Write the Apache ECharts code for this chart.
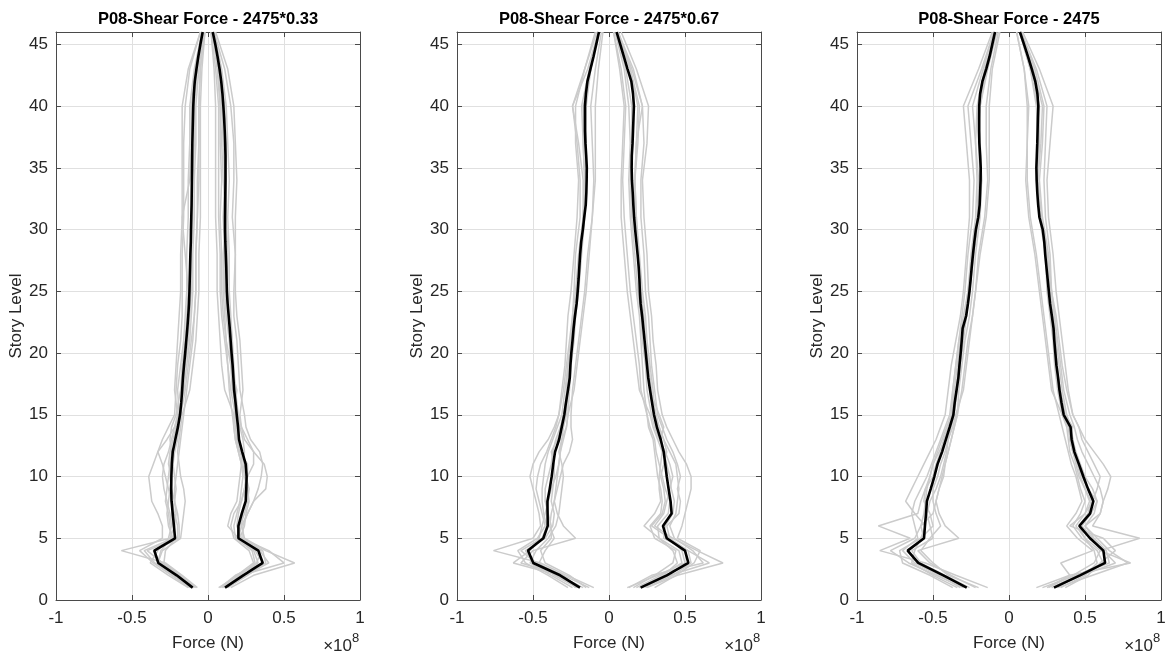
<!DOCTYPE html>
<html>
<head>
<meta charset="utf-8">
<title>P08 Shear Force Envelopes</title>
<script src="https://cdn.jsdelivr.net/npm/echarts@6/dist/echarts.min.js"></script>
<style>
  html, body { margin: 0; padding: 0; background: #ffffff; }
  #chart { width: 1175px; height: 662px; }
</style>
</head>
<body>
<div id="chart"></div>
<script>
// Story levels used by the mean envelopes
const STORY = [1,2,3,4,5,6,7,8,9,10,11,12,13,14,15,16,17,18,19,20,21,22,23,24,25,26,27,28,29,30,31,32,33,34,35,36,37,38,39,40,41,42,43,44,45,46];
// Story levels sampled for the individual ground-motion envelopes
const STORY_GM = [1,2,3,4,5,6,7,8,9,10,11,12,13,14,15,17,19,21,23,25,28,31,34,37,40,43,46];

const TITLES = ['P08-Shear Force - 2475*0.33', 'P08-Shear Force - 2475*0.67', 'P08-Shear Force - 2475'];
const X_TICKS = [-1, -0.5, 0, 0.5, 1];
const Y_TICKS = [0, 5, 10, 15, 20, 25, 30, 35, 40, 45];

// Shear force, in units of 1e8 N
// ---- 2475*0.33 ----
const P1_POS_MEAN = [0.112,0.232,0.360,0.331,0.200,0.200,0.222,0.248,0.252,0.254,0.248,0.225,0.204,0.198,0.189,0.181,0.172,0.167,0.162,0.155,0.149,0.143,0.136,0.129,0.124,0.122,0.120,0.117,0.114,0.112,0.112,0.113,0.114,0.115,0.115,0.115,0.113,0.110,0.106,0.101,0.095,0.087,0.076,0.063,0.048,0.031];
const P1_NEG_MEAN = [-0.101,-0.206,-0.327,-0.353,-0.217,-0.224,-0.232,-0.240,-0.242,-0.241,-0.238,-0.232,-0.215,-0.198,-0.184,-0.176,-0.170,-0.165,-0.158,-0.150,-0.143,-0.136,-0.130,-0.125,-0.122,-0.120,-0.118,-0.116,-0.113,-0.112,-0.110,-0.108,-0.107,-0.106,-0.105,-0.104,-0.103,-0.101,-0.099,-0.097,-0.093,-0.087,-0.076,-0.064,-0.050,-0.035];
const P1_POS_GM = [
  [.07,.20,.33,.30,.18,.17,.19,.21,.22,.23,.22,.20,.18,.17,.16,.14,.13,.12,.10,.09,.09,.08,.09,.08,.08,.06,.03],
  [.15,.30,.57,.38,.24,.22,.26,.30,.33,.35,.36,.34,.28,.25,.24,.21,.20,.19,.17,.17,.18,.16,.17,.17,.15,.11,.04],
  [.10,.22,.50,.40,.22,.19,.20,.22,.24,.26,.30,.30,.26,.22,.20,.16,.15,.14,.12,.11,.11,.10,.11,.10,.09,.07,.03],
  [.09,.19,.30,.27,.17,.15,.17,.22,.24,.25,.24,.21,.19,.18,.17,.11,.09,.08,.07,.06,.06,.05,.05,.05,.05,.04,.02],
  [.13,.26,.38,.36,.23,.23,.26,.30,.38,.39,.37,.30,.24,.22,.21,.23,.22,.21,.19,.18,.18,.18,.19,.18,.17,.13,.05],
  [.11,.21,.31,.29,.19,.21,.24,.26,.27,.25,.22,.20,.18,.17,.17,.19,.15,.12,.11,.10,.10,.12,.10,.09,.08,.07,.03],
  [.12,.25,.40,.34,.21,.24,.25,.27,.26,.24,.23,.24,.23,.21,.20,.18,.17,.16,.15,.14,.14,.13,.14,.13,.12,.09,.04],
  [.08,.18,.36,.31,.20,.13,.15,.19,.20,.21,.22,.22,.20,.19,.18,.15,.13,.11,.09,.08,.08,.07,.07,.07,.07,.05,.02],
  [.12,.24,.32,.35,.20,.22,.23,.25,.24,.26,.26,.21,.19,.19,.18,.17,.16,.16,.14,.13,.13,.12,.12,.12,.11,.08,.03]
];
const P1_NEG_GM = [
  [-.07,-.17,-.28,-.57,-.25,-.22,-.21,-.22,-.22,-.21,-.20,-.19,-.18,-.17,-.16,-.14,-.12,-.10,-.09,-.08,-.08,-.07,-.07,-.06,-.06,-.05,-.03],
  [-.12,-.24,-.36,-.45,-.30,-.30,-.33,-.37,-.38,-.39,-.36,-.33,-.30,-.26,-.22,-.21,-.20,-.18,-.17,-.17,-.17,-.16,-.16,-.16,-.15,-.12,-.05],
  [-.09,-.19,-.30,-.40,-.20,-.20,-.22,-.24,-.26,-.28,-.30,-.33,-.27,-.22,-.19,-.16,-.15,-.13,-.12,-.11,-.11,-.10,-.10,-.09,-.09,-.07,-.03],
  [-.10,-.22,-.33,-.30,-.18,-.17,-.16,-.15,-.16,-.18,-.19,-.20,-.19,-.18,-.17,-.12,-.10,-.08,-.07,-.06,-.06,-.05,-.05,-.05,-.05,-.04,-.02],
  [-.13,-.26,-.38,-.33,-.26,-.24,-.25,-.27,-.29,-.30,-.29,-.26,-.24,-.22,-.20,-.22,-.21,-.20,-.19,-.18,-.18,-.17,-.17,-.17,-.17,-.13,-.05],
  [-.08,-.18,-.29,-.28,-.21,-.23,-.24,-.22,-.21,-.22,-.23,-.22,-.22,-.21,-.19,-.16,-.14,-.12,-.11,-.10,-.10,-.09,-.09,-.08,-.08,-.06,-.03],
  [-.11,-.23,-.35,-.42,-.23,-.26,-.27,-.26,-.25,-.24,-.26,-.25,-.23,-.21,-.19,-.20,-.18,-.16,-.15,-.14,-.14,-.13,-.13,-.12,-.12,-.09,-.04],
  [-.09,-.20,-.31,-.36,-.19,-.19,-.20,-.22,-.24,-.25,-.24,-.22,-.20,-.19,-.18,-.15,-.13,-.11,-.09,-.08,-.08,-.07,-.06,-.06,-.06,-.05,-.02],
  [-.11,-.21,-.33,-.31,-.24,-.25,-.26,-.28,-.27,-.26,-.25,-.24,-.25,-.24,-.21,-.18,-.17,-.15,-.14,-.13,-.15,-.17,-.12,-.11,-.11,-.08,-.04]
];

// ---- 2475*0.67 ----
const P2_POS_MEAN = [0.208,0.380,0.522,0.500,0.380,0.355,0.412,0.405,0.392,0.380,0.370,0.360,0.340,0.315,0.296,0.283,0.270,0.258,0.250,0.242,0.234,0.226,0.218,0.208,0.203,0.200,0.195,0.188,0.180,0.172,0.165,0.160,0.156,0.151,0.149,0.150,0.155,0.158,0.161,0.164,0.158,0.147,0.122,0.098,0.074,0.050];
const P2_NEG_MEAN = [-0.191,-0.322,-0.498,-0.533,-0.432,-0.403,-0.404,-0.405,-0.390,-0.377,-0.367,-0.355,-0.328,-0.311,-0.294,-0.283,-0.270,-0.258,-0.254,-0.248,-0.240,-0.233,-0.224,-0.213,-0.206,-0.200,-0.195,-0.190,-0.183,-0.172,-0.163,-0.153,-0.149,-0.147,-0.146,-0.150,-0.155,-0.158,-0.158,-0.158,-0.152,-0.142,-0.122,-0.102,-0.084,-0.066];
const P2_POS_GM = [
  [.13,.28,.62,.55,.43,.40,.44,.45,.46,.45,.44,.40,.36,.33,.31,.28,.26,.24,.23,.21,.19,.18,.17,.19,.20,.14,.06],
  [.25,.45,.75,.58,.42,.30,.36,.38,.40,.42,.40,.37,.33,.30,.28,.25,.24,.22,.21,.19,.17,.15,.14,.15,.15,.11,.05],
  [.18,.34,.48,.46,.33,.23,.30,.34,.33,.33,.34,.35,.32,.29,.27,.20,.18,.16,.14,.12,.10,.08,.08,.09,.10,.07,.03],
  [.30,.44,.56,.60,.45,.48,.50,.52,.54,.54,.51,.46,.42,.38,.35,.32,.31,.29,.28,.26,.25,.23,.22,.25,.26,.18,.08],
  [.20,.36,.45,.42,.33,.32,.39,.40,.37,.35,.33,.31,.30,.27,.25,.23,.22,.21,.20,.18,.16,.14,.13,.14,.13,.10,.04],
  [.12,.32,.50,.48,.40,.28,.35,.37,.36,.34,.36,.38,.36,.33,.30,.29,.27,.25,.24,.22,.20,.18,.17,.18,.19,.14,.06],
  [.22,.40,.66,.52,.36,.37,.42,.43,.41,.40,.38,.36,.34,.36,.33,.27,.26,.24,.22,.21,.19,.17,.17,.18,.22,.15,.06],
  [.16,.30,.42,.44,.30,.27,.34,.35,.34,.32,.31,.30,.29,.26,.25,.21,.20,.18,.16,.14,.12,.10,.09,.10,.11,.08,.03],
  [.24,.42,.54,.52,.40,.38,.46,.47,.45,.47,.45,.42,.38,.35,.32,.30,.28,.27,.26,.24,.23,.21,.21,.23,.22,.16,.06]
];
const P2_NEG_GM = [
  [-.10,-.28,-.45,-.76,-.50,-.45,-.46,-.48,-.50,-.52,-.50,-.46,-.40,-.36,-.33,-.30,-.28,-.26,-.24,-.23,-.22,-.19,-.19,-.21,-.24,-.16,-.08],
  [-.27,-.40,-.55,-.60,-.47,-.42,-.44,-.46,-.48,-.47,-.45,-.41,-.38,-.35,-.33,-.31,-.29,-.28,-.27,-.25,-.23,-.21,-.20,-.22,-.22,-.16,-.09],
  [-.22,-.30,-.58,-.50,-.22,-.30,-.34,-.36,-.34,-.32,-.30,-.26,-.24,-.25,-.25,-.24,-.22,-.20,-.18,-.16,-.14,-.11,-.09,-.09,-.09,-.07,-.04],
  [-.15,-.26,-.42,-.45,-.38,-.38,-.40,-.42,-.42,-.40,-.38,-.37,-.35,-.32,-.30,-.27,-.26,-.24,-.22,-.20,-.18,-.16,-.15,-.15,-.15,-.12,-.07],
  [-.20,-.35,-.50,-.55,-.42,-.37,-.36,-.38,-.37,-.36,-.36,-.38,-.34,-.31,-.29,-.28,-.27,-.25,-.23,-.21,-.19,-.16,-.16,-.17,-.18,-.13,-.07],
  [-.17,-.33,-.63,-.52,-.46,-.44,-.42,-.40,-.38,-.35,-.33,-.32,-.30,-.28,-.27,-.23,-.21,-.19,-.17,-.15,-.13,-.11,-.10,-.11,-.12,-.09,-.05],
  [-.24,-.38,-.52,-.48,-.40,-.35,-.33,-.32,-.31,-.30,-.31,-.33,-.31,-.28,-.27,-.26,-.25,-.23,-.22,-.21,-.19,-.17,-.17,-.20,-.24,-.14,-.07],
  [-.13,-.30,-.48,-.58,-.44,-.41,-.43,-.44,-.44,-.43,-.42,-.40,-.37,-.34,-.31,-.29,-.27,-.25,-.24,-.22,-.20,-.17,-.16,-.17,-.16,-.12,-.07],
  [-.21,-.36,-.46,-.42,-.36,-.39,-.38,-.36,-.35,-.34,-.33,-.32,-.31,-.30,-.28,-.27,-.26,-.24,-.23,-.21,-.19,-.17,-.15,-.16,-.17,-.12,-.07]
];

// ---- 2475 ----
const P3_POS_MEAN = [0.296,0.467,0.632,0.621,0.533,0.463,0.533,0.555,0.520,0.489,0.460,0.430,0.412,0.405,0.360,0.345,0.332,0.323,0.312,0.305,0.298,0.293,0.282,0.270,0.262,0.254,0.246,0.238,0.232,0.222,0.200,0.192,0.186,0.182,0.180,0.183,0.186,0.188,0.190,0.193,0.187,0.173,0.150,0.125,0.099,0.072];
const P3_NEG_MEAN = [-0.278,-0.432,-0.597,-0.667,-0.559,-0.553,-0.546,-0.540,-0.515,-0.491,-0.470,-0.440,-0.415,-0.390,-0.366,-0.357,-0.345,-0.333,-0.326,-0.318,-0.311,-0.305,-0.282,-0.270,-0.260,-0.252,-0.245,-0.237,-0.228,-0.218,-0.202,-0.193,-0.190,-0.187,-0.186,-0.190,-0.195,-0.197,-0.197,-0.196,-0.190,-0.175,-0.150,-0.128,-0.110,-0.092];
const P3_POS_GM = [
  [.18,.40,.80,.60,.86,.55,.60,.62,.60,.56,.52,.48,.45,.43,.40,.36,.34,.32,.30,.28,.26,.22,.20,.22,.23,.17,.08],
  [.37,.52,.60,.70,.62,.40,.50,.55,.58,.60,.56,.52,.48,.46,.42,.39,.37,.35,.33,.31,.29,.26,.25,.27,.29,.20,.09],
  [.25,.40,.34,.55,.45,.38,.44,.48,.46,.44,.41,.39,.37,.35,.33,.29,.27,.25,.23,.21,.18,.14,.12,.12,.12,.10,.05],
  [.32,.55,.78,.66,.58,.50,.60,.62,.65,.67,.62,.56,.50,.46,.42,.38,.35,.33,.31,.28,.25,.21,.19,.20,.20,.15,.07],
  [.28,.45,.62,.58,.48,.42,.47,.50,.47,.45,.43,.40,.39,.38,.35,.32,.30,.29,.27,.25,.24,.20,.18,.19,.19,.14,.07],
  [.22,.44,.66,.64,.56,.50,.56,.58,.52,.48,.45,.42,.40,.42,.37,.34,.31,.31,.29,.27,.25,.21,.19,.19,.18,.14,.07],
  [.34,.50,.58,.56,.50,.46,.52,.54,.50,.46,.44,.42,.40,.39,.35,.28,.26,.24,.22,.20,.17,.13,.11,.12,.13,.10,.05],
  [.30,.48,.70,.62,.55,.48,.54,.58,.55,.50,.47,.44,.42,.40,.36,.33,.32,.30,.28,.27,.24,.21,.19,.21,.22,.16,.07],
  [.26,.42,.56,.60,.50,.44,.50,.53,.50,.47,.45,.43,.42,.41,.38,.35,.33,.31,.30,.28,.27,.24,.23,.24,.25,.18,.08]
];
const P3_NEG_GM = [
  [-.14,-.35,-.55,-.85,-.65,-.86,-.60,-.58,-.55,-.52,-.50,-.47,-.44,-.41,-.38,-.36,-.34,-.32,-.29,-.27,-.24,-.21,-.20,-.22,-.24,-.17,-.10],
  [-.37,-.52,-.70,-.72,-.58,-.55,-.62,-.68,-.64,-.60,-.56,-.52,-.48,-.45,-.42,-.40,-.38,-.35,-.32,-.30,-.28,-.26,-.26,-.28,-.30,-.20,-.11],
  [-.22,-.38,-.52,-.60,-.33,-.42,-.46,-.48,-.46,-.44,-.42,-.40,-.38,-.36,-.34,-.31,-.29,-.27,-.24,-.22,-.19,-.15,-.13,-.13,-.13,-.11,-.06],
  [-.30,-.48,-.66,-.78,-.62,-.58,-.56,-.55,-.54,-.52,-.50,-.46,-.42,-.39,-.37,-.35,-.33,-.31,-.28,-.26,-.24,-.20,-.19,-.20,-.20,-.15,-.09],
  [-.26,-.42,-.58,-.64,-.50,-.52,-.54,-.52,-.48,-.45,-.43,-.41,-.40,-.38,-.36,-.34,-.32,-.30,-.28,-.26,-.23,-.20,-.18,-.19,-.19,-.15,-.09],
  [-.32,-.46,-.62,-.70,-.60,-.62,-.64,-.62,-.58,-.54,-.51,-.48,-.45,-.42,-.39,-.37,-.35,-.33,-.30,-.27,-.25,-.22,-.21,-.22,-.21,-.16,-.09],
  [-.20,-.40,-.50,-.58,-.52,-.45,-.48,-.50,-.50,-.47,-.45,-.42,-.40,-.37,-.35,-.30,-.28,-.26,-.24,-.22,-.20,-.16,-.14,-.15,-.15,-.12,-.07],
  [-.28,-.44,-.60,-.66,-.56,-.58,-.50,-.48,-.46,-.43,-.42,-.40,-.38,-.36,-.34,-.33,-.31,-.29,-.26,-.24,-.22,-.19,-.18,-.19,-.19,-.14,-.08],
  [-.34,-.50,-.64,-.62,-.58,-.50,-.52,-.56,-.55,-.50,-.48,-.45,-.43,-.40,-.38,-.37,-.35,-.33,-.31,-.29,-.27,-.24,-.23,-.25,-.27,-.18,-.10]
];

const FONT = '"Liberation Sans", Arial, Helvetica, sans-serif';
const INK = '#262626';
const BOX = '#4a4a4a';
const GRIDLINE = '#e0e0e0';
const GM_COLOR = '#cbcbcb';
const MEAN_COLOR = '#000000';

const PANELS = [
  { title: TITLES[0], left: 56,  pos: P1_POS_MEAN, neg: P1_NEG_MEAN, gmPos: P1_POS_GM, gmNeg: P1_NEG_GM },
  { title: TITLES[1], left: 457, pos: P2_POS_MEAN, neg: P2_NEG_MEAN, gmPos: P2_POS_GM, gmNeg: P2_NEG_GM },
  { title: TITLES[2], left: 857, pos: P3_POS_MEAN, neg: P3_NEG_MEAN, gmPos: P3_POS_GM, gmNeg: P3_NEG_GM }
];
const PLOT_TOP = 32, PLOT_W = 304, PLOT_H = 568;

const grid = [], xAxis = [], yAxis = [], series = [], graphic = [];

function boxAxisLine() {
  return { show: true, onZero: false, lineStyle: { color: BOX, width: 1 } };
}
function boxTick() {
  return { show: true, inside: true, length: 5, lineStyle: { color: BOX, width: 1 } };
}

PANELS.forEach(function (p, i) {
  grid.push({ left: p.left, top: PLOT_TOP, width: PLOT_W, height: PLOT_H });

  // bottom axis (labelled) and top axis (ticks only)
  xAxis.push({
    gridIndex: i, type: 'value', position: 'bottom',
    min: X_TICKS[0], max: X_TICKS[X_TICKS.length - 1], interval: 0.5,
    axisLine: boxAxisLine(), axisTick: boxTick(),
    axisLabel: { margin: 10, fontSize: 17, color: INK, fontFamily: FONT },
    splitLine: { show: true, lineStyle: { color: GRIDLINE, width: 1 } },
    name: 'Force (N)', nameLocation: 'middle', nameGap: 35,
    nameTextStyle: { fontSize: 17, color: INK, fontFamily: FONT }
  });
  xAxis.push({
    gridIndex: i, type: 'value', position: 'top',
    min: X_TICKS[0], max: X_TICKS[X_TICKS.length - 1], interval: 0.5,
    axisLine: boxAxisLine(), axisTick: boxTick(),
    axisLabel: { show: false }, splitLine: { show: false }
  });

  // left axis (labelled) and right axis (ticks only)
  yAxis.push({
    gridIndex: i, type: 'value', position: 'left',
    min: Y_TICKS[0], max: 46, interval: 5,
    axisLine: boxAxisLine(), axisTick: boxTick(),
    axisLabel: { margin: 8, fontSize: 17, color: INK, fontFamily: FONT, showMaxLabel: false },
    splitLine: { show: true, lineStyle: { color: GRIDLINE, width: 1 } },
    name: 'Story Level', nameLocation: 'middle', nameGap: 30,
    nameTextStyle: { fontSize: 17, color: INK, fontFamily: FONT }
  });
  yAxis.push({
    gridIndex: i, type: 'value', position: 'right',
    min: Y_TICKS[0], max: 46, interval: 5,
    axisLine: boxAxisLine(), axisTick: boxTick(),
    axisLabel: { show: false }, splitLine: { show: false }
  });

  const xi = i * 2, yi = i * 2;

  // individual ground-motion envelopes
  p.gmPos.concat(p.gmNeg).forEach(function (vals) {
    series.push({
      type: 'line', xAxisIndex: xi, yAxisIndex: yi,
      data: STORY_GM.map(function (s, k) { return [vals[k], s]; }),
      showSymbol: false, silent: true, animation: false, z: 2,
      lineStyle: { color: GM_COLOR, width: 1.5 }
    });
  });

  // mean envelopes
  [p.pos, p.neg].forEach(function (vals) {
    series.push({
      type: 'line', xAxisIndex: xi, yAxisIndex: yi,
      data: STORY.map(function (s, k) { return [vals[k], s]; }),
      showSymbol: false, silent: true, animation: false, z: 3,
      lineStyle: { color: MEAN_COLOR, width: 2.6 }
    });
  });

  // panel title
  const cx = p.left + PLOT_W / 2;
  graphic.push({
    type: 'text', x: cx, y: 19, silent: true,
    style: { text: p.title, fill: '#000000', font: 'bold 16.5px ' + FONT,
             textAlign: 'center', align: 'center', textVerticalAlign: 'middle', verticalAlign: 'middle' }
  });

  // axis exponent
  const rx = p.left + PLOT_W;
  graphic.push({
    type: 'text', x: rx - 8, y: 646, silent: true,
    style: { text: '\u00d710', fill: INK, font: '17px ' + FONT,
             textAlign: 'right', align: 'right', textVerticalAlign: 'middle', verticalAlign: 'middle' }
  });
  graphic.push({
    type: 'text', x: rx - 8, y: 638, silent: true,
    style: { text: '8', fill: INK, font: '13px ' + FONT,
             textAlign: 'left', align: 'left', textVerticalAlign: 'middle', verticalAlign: 'middle' }
  });
});

const chart = echarts.init(document.getElementById('chart'), null, { renderer: 'canvas' });
chart.setOption({
  backgroundColor: '#ffffff',
  animation: false,
  grid: grid,
  xAxis: xAxis,
  yAxis: yAxis,
  series: series,
  graphic: graphic
});
</script>
</body>
</html>
